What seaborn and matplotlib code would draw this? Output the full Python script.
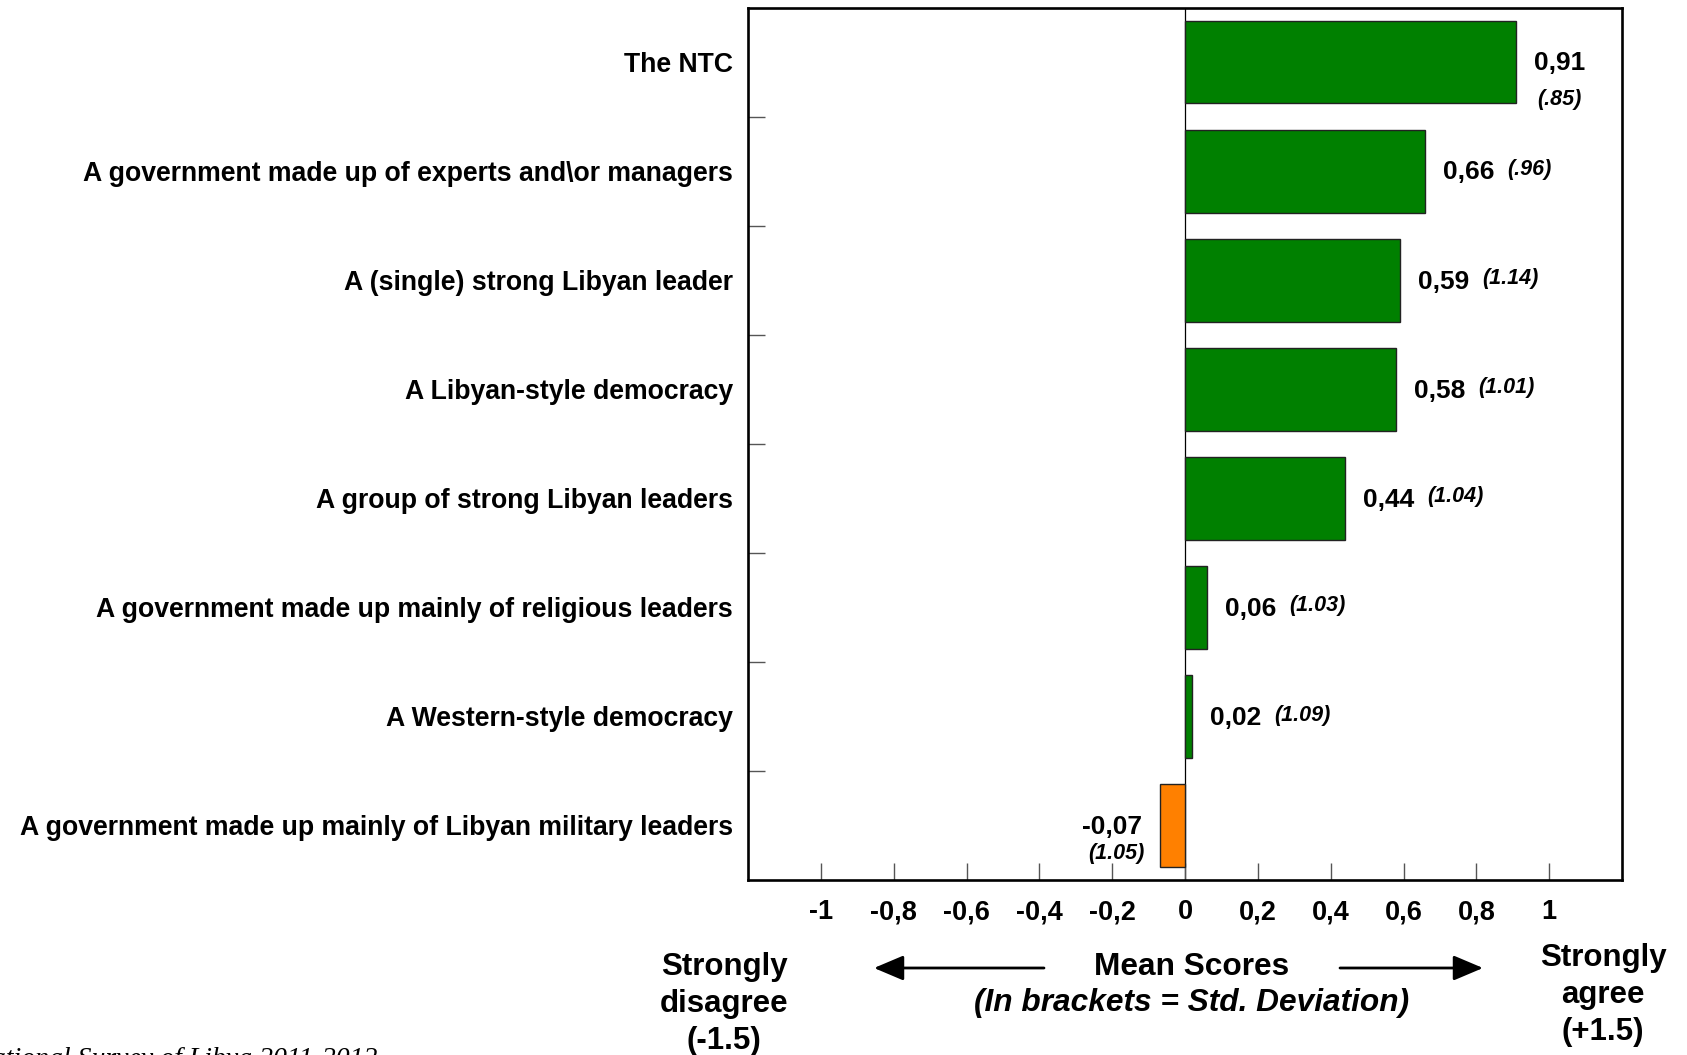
import matplotlib
matplotlib.use("Agg")
import matplotlib.pyplot as plt
import seaborn as sns
import pandas as pd
import numpy as np

categories = [
    "The NTC",
    "A government made up of experts and\\or managers",
    "A (single) strong Libyan leader",
    "A Libyan-style democracy",
    "A group of strong Libyan leaders",
    "A government made up mainly of religious leaders",
    "A Western-style democracy",
    "A government made up mainly of Libyan military leaders",
]
means = [0.91, 0.66, 0.59, 0.58, 0.44, 0.06, 0.02, -0.07]
std_devs = ["(.85)", "(.96)", "(1.14)", "(1.01)", "(1.04)", "(1.03)", "(1.09)", "(1.05)"]
x_ticks = [-1, -0.8, -0.6, -0.4, -0.2, 0, 0.2, 0.4, 0.6, 0.8, 1]
x_tick_labels = ["-1", "-0,8", "-0,6", "-0,4", "-0,2", "0", "0,2", "0,4", "0,6", "0,8", "1"]

GREEN = "#008000"
ORANGE = "#FF8000"

sns.set_style("white")
plt.rcParams["font.family"] = ["Liberation Sans", "DejaVu Sans"]
plt.rcParams["text.color"] = "black"
plt.rcParams["xtick.labelcolor"] = "black"
plt.rcParams["ytick.labelcolor"] = "black"

W, H = 1687, 1055
fig = plt.figure(figsize=(W / 100, H / 100), dpi=100)
ax = fig.add_axes([748 / W, 1 - 880 / H, (1622 - 748) / W, (880 - 7.5) / H])

df = pd.DataFrame({"cat": categories, "mean": means})
colors = [GREEN if m >= 0 else ORANGE for m in means]
sns.barplot(data=df, y="cat", x="mean", hue="cat", palette=colors, legend=False,
            orient="h", width=0.76, edgecolor="#222222", linewidth=1.0,
            saturation=1, ax=ax)

ax.set_xlim(-1.2, 1.2)
ax.set_ylim(7.5, -0.5)
ax.axvline(0, color="black", lw=0.9, zorder=0.5)

for s in ax.spines.values():
    s.set_visible(True)
    s.set_color("black")
    s.set_linewidth(1.9)

ax.set_xticks(x_ticks)
ax.set_xticklabels(x_tick_labels, fontsize=19.5, fontweight="bold")
ax.tick_params(axis="x", direction="in", length=12, width=1, color="#555555", pad=14, bottom=True,
               labelcolor="black")
ax.set_yticks(range(len(categories)))
ax.set_yticklabels(categories, fontsize=19.2, fontweight="bold")
ax.tick_params(axis="y", length=0, pad=11, left=True, labelcolor="black")
ax.set_yticks(np.arange(0.5, len(categories) - 1, 1.0), minor=True)
ax.tick_params(axis="y", which="minor", direction="in", length=12, width=1, color="#555555", left=True)
ax.set_xlabel("")
ax.set_ylabel("")

NUM_FS = 19
SD_FS = 15.5
for i, (m, sd) in enumerate(zip(means, std_devs)):
    label = f"{m:.2f}".replace(".", ",")
    if i == 0:
        ax.annotate(label, (m, i), xytext=(31, -1), textcoords="offset points",
                    ha="center", va="center", fontsize=NUM_FS, fontweight="bold")
        ax.annotate(sd, (m, i), xytext=(31, -27), textcoords="offset points",
                    ha="center", va="center", fontsize=SD_FS, fontweight="bold", style="italic")
    elif m < 0:
        ax.annotate(label, (m, i), xytext=(-34, -1), textcoords="offset points",
                    ha="center", va="center", fontsize=NUM_FS, fontweight="bold")
        ax.annotate(sd, (m, i), xytext=(-31, -20), textcoords="offset points",
                    ha="center", va="center", fontsize=SD_FS, fontweight="bold", style="italic")
    else:
        ax.annotate(label, (m, i), xytext=(13, -1), textcoords="offset points",
                    ha="left", va="center", fontsize=NUM_FS, fontweight="bold")
        ax.annotate(sd, (m, i), xytext=(59, 1), textcoords="offset points",
                    ha="left", va="center", fontsize=SD_FS, fontweight="bold", style="italic")

def fx(px):
    return px / W

def fy(py):
    return 1 - py / H

fig.text(fx(724), fy(1004), "Strongly\ndisagree\n(-1.5)", ha="center", va="center",
         fontsize=22.5, fontweight="bold", linespacing=1.3)
fig.text(fx(1603), fy(995), "Strongly\nagree\n(+1.5)", ha="center", va="center",
         fontsize=22.5, fontweight="bold", linespacing=1.3)
fig.text(fx(1192), fy(967), "Mean Scores", ha="center", va="center",
         fontsize=22.8, fontweight="bold")
fig.text(fx(1192), fy(1003), "(In brackets = Std. Deviation)", ha="center", va="center",
         fontsize=22.8, fontweight="bold", style="italic")

arrow_kw = dict(arrowstyle="-|>,head_length=1.3,head_width=0.55", color="black", lw=2,
                mutation_scale=14, shrinkA=0, shrinkB=0)
fig.add_artist(matplotlib.patches.FancyArrowPatch((fx(1044), fy(968)), (fx(874), fy(968)),
                                                  transform=fig.transFigure, **arrow_kw))
fig.add_artist(matplotlib.patches.FancyArrowPatch((fx(1340), fy(968)), (fx(1483), fy(968)),
                                                  transform=fig.transFigure, **arrow_kw))

fig.text(fx(377), fy(1066), "Source: National Survey of Libya 2011-2012", ha="right", va="baseline",
         fontsize=20, style="italic", family=["Liberation Serif", "DejaVu Serif"])

fig.savefig("out.png", dpi=100)
